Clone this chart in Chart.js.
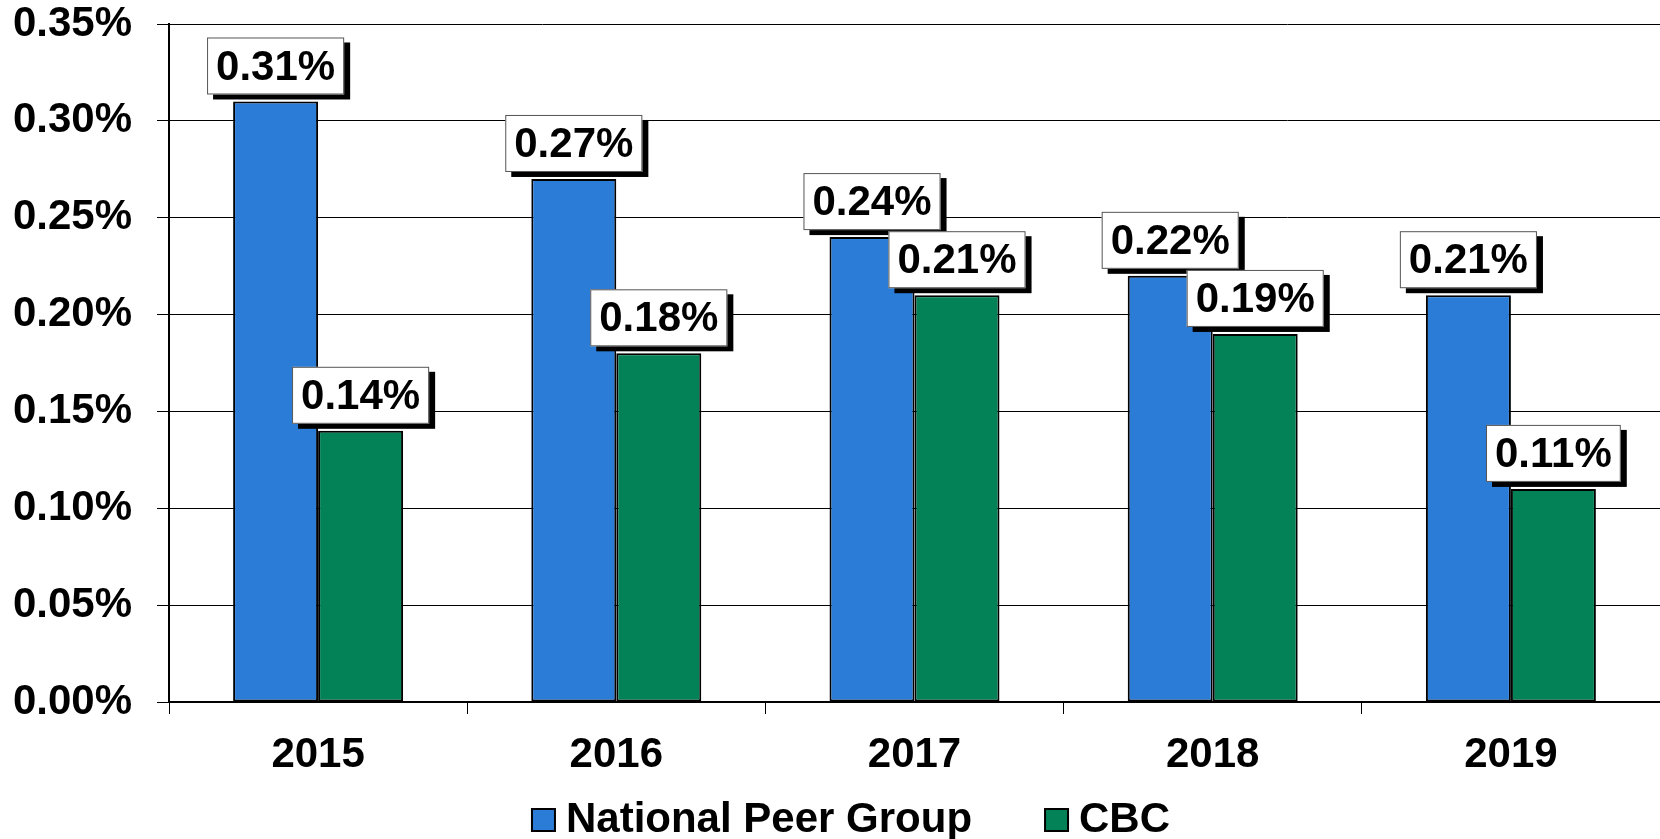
<!DOCTYPE html>
<html>
<head>
<meta charset="utf-8">
<title>National Peer Group vs CBC</title>
<script src="https://cdn.jsdelivr.net/npm/chart.js@4"></script>
<style>
    html, body { margin: 0; padding: 0; background: #ffffff; }
    #chartBox { width: 1660px; height: 839px; }
</style>
</head>
<body>
<div id="chartBox"><canvas id="ratioChart" width="1660" height="839"></canvas></div>
<script>
// chart values (percent)
const years = ["2015", "2016", "2017", "2018", "2019"];
const peerGroup = [0.31, 0.27, 0.24, 0.22, 0.21];
const cbc = [0.14, 0.18, 0.21, 0.19, 0.11];
const seriesNames = ["National Peer Group", "CBC"];
const yTicks = [0, 0.05, 0.10, 0.15, 0.20, 0.25, 0.30, 0.35];

const FONT = "'Liberation Sans', Arial, Helvetica, sans-serif";

function pct(v) {
    return v.toFixed(2) + "%";
}

// white value boxes with a drop shadow above each bar
const valueBoxes = {
    id: "valueBoxes",
    afterDatasetsDraw: function (chart) {
        const ctx = chart.ctx;
        ctx.save();
        ctx.font = "bold 42px " + FONT;
        ctx.textAlign = "center";
        ctx.textBaseline = "middle";
        chart.data.datasets.forEach(function (ds, i) {
            const meta = chart.getDatasetMeta(i);
            meta.data.forEach(function (bar, j) {
                const text = pct(ds.data[j]);
                const w = ctx.measureText(text).width + 18;
                const h = 57;
                const left = bar.x - w / 2;
                const top = bar.y - 7 - h;
                ctx.fillStyle = "#000000";
                ctx.fillRect(left + 6, top + 5, w, h);
                ctx.fillStyle = "#ffffff";
                ctx.fillRect(left, top, w, h);
                ctx.strokeStyle = "#555555";
                ctx.lineWidth = 1;
                ctx.strokeRect(left + 0.5, top + 0.5, w - 1, h - 1);
                ctx.fillStyle = "#000000";
                ctx.fillText(text, bar.x, top + h / 2 + 2);
            });
        });
        ctx.restore();
    }
};

// legend row under the axis
const bottomLegend = {
    id: "bottomLegend",
    afterDraw: function (chart) {
        const ctx = chart.ctx;
        ctx.save();
        ctx.font = "bold 42px " + FONT;
        ctx.textBaseline = "middle";
        ctx.textAlign = "left";
        const box = 23, gap = 11, itemGap = 73;
        const items = chart.data.datasets.map(function (ds) {
            return { label: ds.label, color: ds.backgroundColor, tw: ctx.measureText(ds.label).width };
        });
        let total = 0;
        items.forEach(function (it, k) {
            total += box + gap + it.tw + (k < items.length - 1 ? itemGap : 0);
        });
        let x = chart.width / 2 + 21 - total / 2;
        const cy = 820;
        items.forEach(function (it) {
            ctx.fillStyle = it.color;
            ctx.fillRect(x, cy - 11, box, 22);
            ctx.strokeStyle = "#000000";
            ctx.lineWidth = 2;
            ctx.strokeRect(x, cy - 11, box, 22);
            ctx.fillStyle = "#000000";
            ctx.fillText(it.label, x + box + gap, cy);
            x += box + gap + it.tw + itemGap;
        });
        ctx.restore();
    }
};

const ctx = document.getElementById("ratioChart").getContext("2d");
const ratioChart = new Chart(ctx, {
    type: "bar",
    data: {
        labels: years,
        datasets: [
            {
                label: seriesNames[0],
                data: peerGroup,
                backgroundColor: "#2B7CD7",
                borderColor: "#000000",
                borderWidth: 2,
                borderSkipped: false,
                categoryPercentage: 0.57,
                barPercentage: 1.0,
            },
            {
                label: seriesNames[1],
                data: cbc,
                backgroundColor: "#038257",
                borderColor: "#000000",
                borderWidth: 2,
                borderSkipped: false,
                categoryPercentage: 0.57,
                barPercentage: 1.0,
            },
        ],
    },
    options: {
        responsive: false,
        animation: false,
        layout: {
            padding: { top: 0, right: 0, bottom: 57, left: 0 },
        },
        scales: {
            x: {
                grid: {
                    display: true,
                    drawOnChartArea: false,
                    drawTicks: true,
                    tickLength: 12,
                    color: "#000000",
                    lineWidth: 1,
                },
                border: { display: true, color: "#000000", width: 2 },
                ticks: {
                    color: "#000000",
                    padding: 16,
                    font: { family: FONT, size: 42, weight: "bold" },
                },
                afterFit: function (scale) {
                    scale.height = 80;
                },
            },
            y: {
                min: 0,
                max: 0.35,
                afterBuildTicks: function (scale) {
                    scale.ticks = yTicks.map(function (v) { return { value: v }; });
                },
                grid: {
                    color: "#000000",
                    lineWidth: 1,
                    drawTicks: true,
                    tickLength: 12,
                },
                border: { display: true, color: "#000000", width: 2 },
                ticks: {
                    color: "#000000",
                    padding: 25,
                    font: { family: FONT, size: 42, weight: "bold" },
                    callback: function (v) { return pct(v); },
                },
                afterFit: function (scale) {
                    scale.width = 169;
                    scale.paddingTop = 24;
                    scale.paddingBottom = 0;
                },
            },
        },
        plugins: {
            legend: { display: false },
            tooltip: { enabled: false },
        },
    },
    plugins: [valueBoxes, bottomLegend],
});
</script>
</body>
</html>
